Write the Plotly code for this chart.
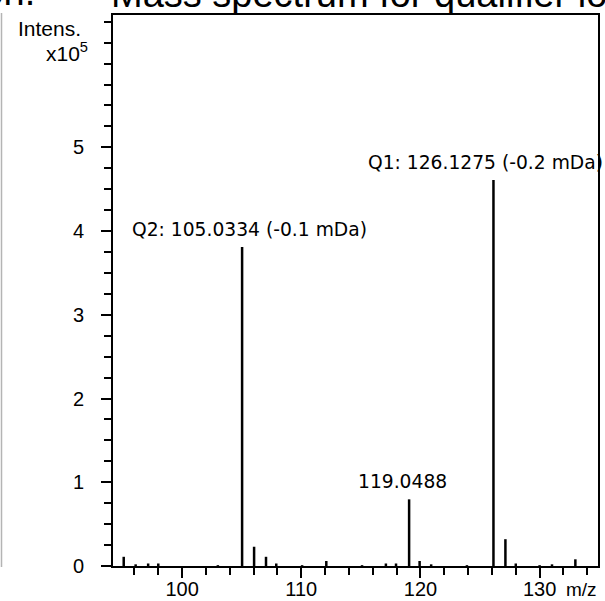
import plotly.graph_objects as go

# ---- data ----
mz = [95.1, 96.1, 97.15, 98.0, 103.0, 105.0334, 106.04, 107.04, 107.9, 110.07,
      112.1, 115.1, 117.1, 117.95, 119.0488, 119.93, 120.9, 123.9, 126.1275,
      127.13, 128.0, 130.0, 131.04, 133.0]
intensity = [0.11e5, 0.02e5, 0.03e5, 0.03e5, 0.01e5, 3.81e5, 0.23e5, 0.11e5, 0.03e5, 0.01e5,
             0.06e5, 0.01e5, 0.03e5, 0.03e5, 0.796e5, 0.06e5, 0.02e5, 0.01e5, 4.61e5,
             0.32e5, 0.03e5, 0.01e5, 0.02e5, 0.08e5]

label_mz = [126.1275, 105.0334, 119.0488]
label_int = [4.61e5, 3.81e5, 0.796e5]
label_text = ["Q1: 126.1275 (-0.2 mDa)", "Q2: 105.0334 (-0.1 mDa)", "119.0488"]
label_shift = [-8, 7, -7]

x_tickvals = [100, 110, 120, 130]
x_ticktext = ["100", "110", "120", "130"]
y_tickvals = [0, 1e5, 2e5, 3e5, 4e5, 5e5]
y_ticktext = ["0", "1", "2", "3", "4", "5"]

title_text = "Mass spectrum for qualifier ions"

# ---- build sticks ----
xs, ys = [], []
for m, h in zip(mz, intensity):
    xs += [m, m, None]
    ys += [0, h, None]

fig = go.Figure()
fig.add_trace(go.Scatter(x=xs, y=ys, mode="lines",
                         line=dict(color="black", width=2.5),
                         hoverinfo="skip", showlegend=False))

for m, h, t, s in zip(label_mz, label_int, label_text, label_shift):
    fig.add_annotation(x=m, y=h, text=t, showarrow=False, xanchor="center",
                       yanchor="bottom", yshift=5, xshift=s,
                       font=dict(family="DejaVu Sans", size=18.7, color="black"))

W, H = 605, 601
L, R, T, B = 113, 7, 15, 35
pw, ph = W - L - R, H - T - B

def px(xp):
    return (xp - L) / pw

def py(yp):
    return (H - B - yp) / ph

fig.add_annotation(xref="paper", yref="paper", x=px(109), y=py(-6), text=title_text,
                   showarrow=False, xanchor="left", yanchor="middle",
                   font=dict(family="Liberation Sans", size=38, color="black"))
fig.add_annotation(xref="paper", yref="paper", x=px(37), y=py(-8), text="ion.",
                   showarrow=False, xanchor="right", yanchor="middle",
                   font=dict(family="Liberation Sans", size=38, color="black"))
fig.add_annotation(xref="paper", yref="paper", x=px(83), y=py(28), text="Intens.",
                   showarrow=False, xanchor="right", yanchor="middle",
                   font=dict(family="Liberation Sans", size=21, color="black"))
fig.add_annotation(xref="paper", yref="paper", x=px(90), y=py(52), text="x10<sup>5</sup>",
                   showarrow=False, xanchor="right", yanchor="middle",
                   font=dict(family="Liberation Sans", size=21, color="black"))
fig.add_annotation(xref="paper", yref="paper", x=px(564), y=py(589), text="m/z",
                   showarrow=False, xanchor="left", yanchor="middle",
                   font=dict(family="Liberation Sans", size=19, color="black"))

fig.add_shape(type="line", xref="paper", yref="paper", x0=px(1.5), x1=px(1.5),
              y0=py(13), y1=py(567), line=dict(color="#b4b4b4", width=1.5))

fig.update_layout(
    width=W, height=H,
    margin=dict(l=L, r=R, t=T, b=B, autoexpand=False),
    paper_bgcolor="white", plot_bgcolor="white",
    font=dict(family="Liberation Sans", size=20, color="black"),
    xaxis=dict(range=[94.2, 134.9], tickvals=x_tickvals, ticktext=x_ticktext,
               ticks="outside", ticklen=10, tickwidth=2, tickcolor="black",
               minor=dict(dtick=2, tick0=0, ticks="outside", ticklen=7, tickwidth=2, tickcolor="black"),
               showline=True, linecolor="black", linewidth=2, mirror=True,
               showgrid=False, zeroline=False, ticklabelstandoff=-6, automargin=False),
    yaxis=dict(range=[0, 6.58e5], tickvals=y_tickvals, ticktext=y_ticktext,
               ticks="outside", ticklen=10, tickwidth=2, tickcolor="black",
               minor=dict(dtick=0.25e5, tick0=0, ticks="outside", ticklen=7, tickwidth=2, tickcolor="black"),
               showline=True, linecolor="black", linewidth=2, mirror=True,
               showgrid=False, zeroline=False, ticklabelstandoff=13, automargin=False),
)

fig.write_html("out.html", config={"displayModeBar": False},
               post_script="document.body.style.margin='0';document.body.style.overflow='hidden';")
